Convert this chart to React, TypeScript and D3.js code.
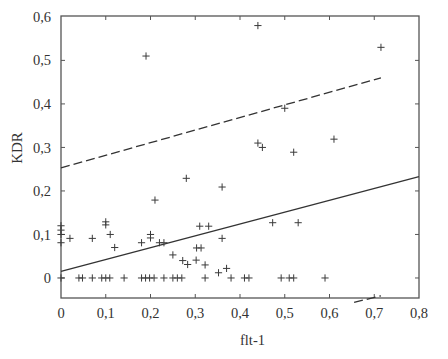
import React from "react";
import * as d3 from "d3";

const W = 448;
const H = 359;
const M = { left: 61, right: 419, top: 16, bottom: 298 };

const xTicks = [0, 0.1, 0.2, 0.3, 0.4, 0.5, 0.6, 0.7, 0.8];
const yTicks = [0, 0.1, 0.2, 0.3, 0.4, 0.5, 0.6];

// scatter points (flt-1, KDR)
const pointX = [
  0.44, 0.715, 0.19, 0.5, 0.44, 0.45, 0.52, 0.61, 0.28, 0.36, 0.21,
  0, 0, 0, 0, 0,
  0.02, 0.07, 0.1, 0.1, 0.11, 0.12,
  0.18, 0.2, 0.2, 0.22, 0.23,
  0.31, 0.33, 0.36, 0.303, 0.313,
  0.25, 0.272, 0.283, 0.302, 0.322, 0.352, 0.37,
  0.473, 0.53,
  0.04, 0.048, 0.07, 0.091, 0.1, 0.109, 0.141, 0.18, 0.189, 0.198, 0.208,
  0.23, 0.25, 0.26, 0.27, 0.322, 0.38, 0.41, 0.42, 0.492, 0.51, 0.52, 0.59,
];
const pointY = [
  0.58, 0.53, 0.51, 0.39, 0.31, 0.3, 0.289, 0.319, 0.229, 0.209, 0.179,
  0.12, 0.11, 0.1, 0.081, 0,
  0.091, 0.091, 0.129, 0.122, 0.1, 0.07,
  0.081, 0.1, 0.092, 0.081, 0.081,
  0.119, 0.119, 0.091, 0.069, 0.069,
  0.053, 0.04, 0.031, 0.041, 0.03, 0.012, 0.022,
  0.127, 0.127,
  0, 0, 0, 0, 0, 0, 0, 0, 0, 0, 0,
  0, 0, 0, 0, 0, 0, 0, 0, 0, 0, 0, 0,
];

// regression line and confidence bounds: [x, y]
const fitLine: [number, number][] = [
  [0, 0.015],
  [0.8, 0.233],
];
const upperLine: [number, number][] = [
  [0, 0.253],
  [0.715, 0.46],
];
const lowerLine: [number, number][] = [
  [0.655, -0.056],
  [0.715, -0.041],
];

const fmt = (v: number) => (v === 0 ? "0" : d3.format(".1f")(v).replace(".", ","));

export default function App() {
  const x = d3.scaleLinear().domain([0, 0.8]).range([M.left, M.right]);
  const y = d3.scaleLinear().domain([-0.046, 0.602]).range([M.bottom, M.top]);
  const line = d3
    .line<[number, number]>()
    .x((d) => x(d[0]))
    .y((d) => y(d[1]));

  const ink = "#3a3a3a";
  const font = "'Liberation Serif', 'Times New Roman', serif";
  const tl = 4;
  const s = 3.6;

  return (
    <svg
      width={W}
      height={H}
      style={{ position: "absolute", left: 0, top: 0, background: "#fff" }}
      fontFamily={font}
    >
      <rect x={0} y={0} width={W} height={H} fill="#fff" />
      {/* frame */}
      <rect
        x={M.left}
        y={M.top}
        width={M.right - M.left}
        height={M.bottom - M.top}
        fill="none"
        stroke="#555"
        strokeWidth={1.3}
      />
      {/* x ticks */}
      {xTicks.map((t) => (
        <g key={"x" + t}>
          {t > 0 && t < 0.8 && (
            <>
              <line x1={x(t)} x2={x(t)} y1={M.bottom} y2={M.bottom - tl} stroke="#555" />
              <line x1={x(t)} x2={x(t)} y1={M.top} y2={M.top + tl} stroke="#555" />
            </>
          )}
          <text x={x(t)} y={318} textAnchor="middle" fontSize={14.5} fill="#333">
            {fmt(t)}
          </text>
        </g>
      ))}
      {/* y ticks */}
      {yTicks.map((t) => (
        <g key={"y" + t}>
          {t < 0.6 && (
            <>
              <line x1={M.left} x2={M.left + tl} y1={y(t)} y2={y(t)} stroke="#555" />
              <line x1={M.right} x2={M.right - tl} y1={y(t)} y2={y(t)} stroke="#555" />
            </>
          )}
          <text x={51} y={y(t)} dy="0.35em" textAnchor="end" fontSize={14.5} fill="#333">
            {fmt(t)}
          </text>
        </g>
      ))}
      {/* lines */}
      <path d={line(fitLine) || ""} fill="none" stroke="#333" strokeWidth={1.3} />
      <path
        d={line(upperLine) || ""}
        fill="none"
        stroke="#333"
        strokeWidth={1.3}
        strokeDasharray="9,4"
      />
      <path
        d={line(lowerLine) || ""}
        fill="none"
        stroke="#333"
        strokeWidth={1.3}
        strokeDasharray="9,4"
      />
      {/* points */}
      {pointX.map((px, i) => {
        const cx = x(px);
        const cy = y(pointY[i]);
        return (
          <g key={"p" + i} stroke={ink} strokeWidth={1}>
            <line x1={cx - s} x2={cx + s} y1={cy} y2={cy} />
            <line x1={cx} x2={cx} y1={cy - s} y2={cy + s} />
          </g>
        );
      })}
      {/* axis labels */}
      <text x={240} y={345} fontSize={14.5} fill="#333">
        flt-1
      </text>
      <text
        transform="translate(22,148) rotate(-90)"
        textAnchor="middle"
        fontSize={15}
        fill="#333"
      >
        KDR
      </text>
    </svg>
  );
}
